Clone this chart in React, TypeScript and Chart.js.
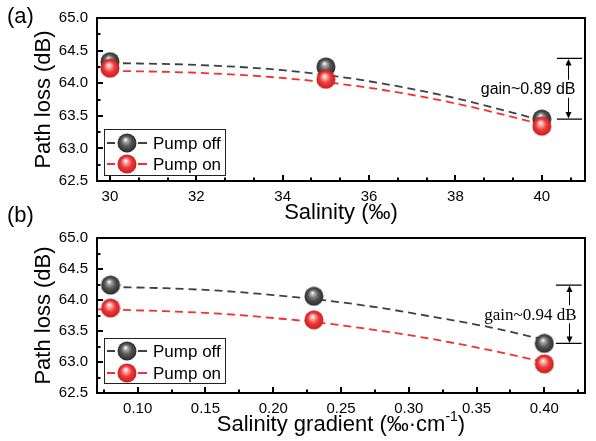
import React, { useEffect, useRef } from "react";
import { Chart, registerables } from "chart.js";

Chart.register(...registerables);

// ---------- Panel (a): Salinity ----------
const salinityA = [30, 35, 40];
const pumpOffA = [64.33, 64.25, 63.45];
const pumpOnA = [64.23, 64.06, 63.34];
const fitXA = [30, 32, 34, 36, 38, 40];
const fitOffA = [64.31, 64.28, 64.2, 64.03, 63.77, 63.43];
const fitOnA = [64.19, 64.16, 64.08, 63.93, 63.69, 63.37];
const xTicksA = [30, 32, 34, 36, 38, 40];
const gainLevelsA = [64.38, 63.45];
const gainBarXA = [40.35, 40.61, 40.93];
const gainLabelA = "gain~0.89 dB";

// ---------- Panel (b): Salinity gradient ----------
const gradientB = [0.08, 0.23, 0.4];
const pumpOffB = [64.24, 64.06, 63.3];
const pumpOnB = [63.87, 63.68, 62.97];
const fitXOffB = [0.08, 0.12, 0.16, 0.2, 0.24, 0.28, 0.32, 0.36, 0.4];
const fitOffB = [64.21, 64.19, 64.15, 64.08, 63.99, 63.87, 63.72, 63.56, 63.36];
const fitXOnB = [0.07, 0.12, 0.16, 0.2, 0.24, 0.28, 0.32, 0.36, 0.4];
const fitOnB = [63.85, 63.82, 63.78, 63.71, 63.62, 63.5, 63.36, 63.19, 63.0];
const xTicksB = [0.1, 0.15, 0.2, 0.25, 0.3, 0.35, 0.4];
const gainLevelsB = [64.24, 63.3];
const gainBarXB = [0.4085, 0.418, 0.4275];
const gainLabelB = "gain~0.94 dB";

const yTicks = [62.5, 63.0, 63.5, 64.0, 64.5, 65.0];
const legendLabels = ["Pump off", "Pump on"];
const yTitle = "Path loss (dB)";
const xTitleA = "Salinity (‰)";
const xTitleB = ["Salinity gradient (‰·cm", "-1", ")"];
const panelLabels = ["(a)", "(b)"];

const SANS = "Arial, 'Liberation Sans', Helvetica, sans-serif";
const SERIF = "'Times New Roman', 'Liberation Serif', serif";
const GRAY_LINE = "#404040";
const RED_LINE = "#f5302e";

function makeSphere(mid: string, base: string, dark: string): HTMLCanvasElement {
  const size = 20;
  const c = document.createElement("canvas");
  c.width = size;
  c.height = size;
  const g = c.getContext("2d")!;
  const cx = size / 2;
  const cy = size / 2;
  const r = size / 2 - 0.5;
  const grad = g.createRadialGradient(cx - 1.5, cy - 3.5, 0.3, cx, cy, r);
  grad.addColorStop(0, "#ffffff");
  grad.addColorStop(0.2, mid);
  grad.addColorStop(0.55, base);
  grad.addColorStop(1, dark);
  g.fillStyle = grad;
  g.beginPath();
  g.arc(cx, cy, r, 0, Math.PI * 2);
  g.fill();
  return c;
}

type PanelCfg = {
  key: string;
  padTop: number;
  xHeight: number;
  xMin: number;
  xMax: number;
  xTicks: number[];
  xMinorPer: number;
  xDec: number;
  ptsX: number[];
  off: number[];
  on: number[];
  fitXOff: number[];
  fitOff: number[];
  fitXOn: number[];
  fitOn: number[];
  gainLevels: number[];
  gainBarX: number[];
  gainLabel: string;
  gainFont: string;
  legendTop: number;
  legendH: number;
  legendRows: number[];
  titleOffset: number;
  drawXTitle: (ctx: CanvasRenderingContext2D, cx: number, cy: number) => void;
  extra?: (ctx: CanvasRenderingContext2D) => void;
};

function minorTicks(majors: number[], per: number, min: number, max: number): number[] {
  const step = (majors[1] - majors[0]) / (per + 1);
  const out: number[] = [];
  const first = majors[0];
  for (let k = -per - 1; ; k++) {
    const v = first + k * step;
    if (v > max + 1e-9) break;
    if (v < min - 1e-9) continue;
    const isMajor = majors.some((m) => Math.abs(m - v) < step * 0.01);
    if (!isMajor) out.push(v);
  }
  return out;
}

function buildChart(canvas: HTMLCanvasElement, p: PanelCfg) {
  const graySphere = makeSphere("#a8a8a8", "#555555", "#2a2a2a");
  const redSphere = makeSphere("#ffb0b0", "#f03a3a", "#c81e1e");

  const plugin = {
    id: "panel" + p.key,
    afterDraw(chart: any) {
      const ctx: CanvasRenderingContext2D = chart.ctx;
      const a = chart.chartArea;
      const xs = chart.scales.x;
      const ys = chart.scales.y;
      ctx.save();

      // Gain annotation
      const yU = ys.getPixelForValue(p.gainLevels[0]);
      const yL = ys.getPixelForValue(p.gainLevels[1]);
      const x0 = xs.getPixelForValue(p.gainBarX[0]);
      const xm = Math.round(xs.getPixelForValue(p.gainBarX[1])) + 0.5;
      const x1 = xs.getPixelForValue(p.gainBarX[2]);
      ctx.strokeStyle = "#000";
      ctx.fillStyle = "#000";
      ctx.lineWidth = 1.3;
      ctx.beginPath();
      ctx.moveTo(x0, yU);
      ctx.lineTo(x1, yU);
      ctx.moveTo(x0, yL);
      ctx.lineTo(x1, yL);
      ctx.stroke();
      ctx.lineWidth = 1;
      ctx.beginPath();
      ctx.moveTo(xm, yU + 5);
      ctx.lineTo(xm, yL - 5);
      ctx.stroke();
      ctx.beginPath();
      ctx.moveTo(xm, yU + 0.5);
      ctx.lineTo(xm - 3, yU + 7);
      ctx.lineTo(xm + 3, yU + 7);
      ctx.closePath();
      ctx.fill();
      ctx.beginPath();
      ctx.moveTo(xm, yL - 0.5);
      ctx.lineTo(xm - 3, yL - 7);
      ctx.lineTo(xm + 3, yL - 7);
      ctx.closePath();
      ctx.fill();
      ctx.font = p.gainFont;
      const tw = ctx.measureText(p.gainLabel).width;
      const tRight = xm + 7;
      const tMid = (yU + yL) / 2;
      ctx.fillStyle = "#fff";
      ctx.fillRect(tRight - tw - 1, tMid - 9, tw + 2, 18);
      ctx.fillStyle = "#000";
      ctx.textAlign = "right";
      ctx.textBaseline = "middle";
      ctx.fillText(p.gainLabel, tRight, tMid + 1);

      // Frame
      ctx.strokeStyle = "#000";
      ctx.lineWidth = 2;
      ctx.strokeRect(a.left, a.top, a.right - a.left, a.bottom - a.top);

      // Inward ticks
      ctx.lineWidth = 2;
      ctx.beginPath();
      for (const v of p.xTicks) {
        const x = Math.round(xs.getPixelForValue(v));
        ctx.moveTo(x, a.bottom);
        ctx.lineTo(x, a.bottom - 6);
      }
      for (const v of minorTicks(p.xTicks, p.xMinorPer, p.xMin, p.xMax)) {
        const x = Math.round(xs.getPixelForValue(v));
        ctx.moveTo(x, a.bottom);
        ctx.lineTo(x, a.bottom - 3.5);
      }
      for (const v of yTicks) {
        const y = Math.round(ys.getPixelForValue(v));
        ctx.moveTo(a.left, y);
        ctx.lineTo(a.left + 6, y);
      }
      for (const v of minorTicks(yTicks, 1, yTicks[0], yTicks[yTicks.length - 1])) {
        const y = Math.round(ys.getPixelForValue(v));
        ctx.moveTo(a.left, y);
        ctx.lineTo(a.left + 3.5, y);
      }
      ctx.stroke();

      // Legend
      const lx = a.left + 7;
      const ly = a.bottom - p.legendTop;
      ctx.fillStyle = "#fff";
      ctx.fillRect(lx, ly, 122, p.legendH);
      ctx.strokeStyle = "#222";
      ctx.lineWidth = 1;
      ctx.strokeRect(lx + 0.5, ly + 0.5, 121, p.legendH - 1);
      const colors = [GRAY_LINE, RED_LINE];
      const spheres = [graySphere, redSphere];
      for (let i = 0; i < 2; i++) {
        const ry = ly + p.legendRows[i];
        ctx.strokeStyle = colors[i];
        ctx.lineWidth = 1.8;
        ctx.beginPath();
        ctx.moveTo(lx + 3, ry);
        ctx.lineTo(lx + 11, ry);
        ctx.moveTo(lx + 34, ry);
        ctx.lineTo(lx + 43, ry);
        ctx.stroke();
        ctx.drawImage(spheres[i], lx + 23 - 10, ry - 10);
        ctx.fillStyle = "#000";
        ctx.font = "17px " + SANS;
        ctx.textAlign = "left";
        ctx.textBaseline = "middle";
        ctx.fillText(legendLabels[i], lx + 49, ry + 1);
      }

      // Axis titles
      ctx.fillStyle = "#000";
      ctx.font = "22px " + SANS;
      ctx.textAlign = "center";
      ctx.textBaseline = "middle";
      ctx.save();
      ctx.translate(44, (a.top + a.bottom) / 2);
      ctx.rotate(-Math.PI / 2);
      ctx.fillText(yTitle, 0, 0);
      ctx.restore();
      p.drawXTitle(ctx, (a.left + a.right) / 2, a.bottom + p.titleOffset);

      if (p.extra) p.extra(ctx);
      ctx.restore();
    },
  };

  const pts = (xsArr: number[], ysArr: number[]) => xsArr.map((x, i) => ({ x, y: ysArr[i] }));

  return new Chart(canvas, {
    type: "scatter",
    data: {
      datasets: [
        {
          label: legendLabels[1],
          data: pts(p.ptsX, p.on),
          pointStyle: redSphere as any,
          pointRadius: 10,
          showLine: false,
        },
        {
          label: legendLabels[0],
          data: pts(p.ptsX, p.off),
          pointStyle: graySphere as any,
          pointRadius: 10,
          showLine: false,
        },
        {
          label: "fit off",
          data: pts(p.fitXOff, p.fitOff),
          showLine: true,
          borderColor: GRAY_LINE,
          borderWidth: 1.8,
          borderDash: [8, 5],
          pointRadius: 0,
          cubicInterpolationMode: "monotone",
        },
        {
          label: "fit on",
          data: pts(p.fitXOn, p.fitOn),
          showLine: true,
          borderColor: RED_LINE,
          borderWidth: 1.8,
          borderDash: [8, 5],
          pointRadius: 0,
          cubicInterpolationMode: "monotone",
        },
      ],
    },
    options: {
      responsive: false,
      animation: false,
      devicePixelRatio: 1,
      layout: { padding: { top: p.padTop, right: 1, left: 0, bottom: 0 } },
      plugins: { legend: { display: false }, tooltip: { enabled: false } },
      scales: {
        x: {
          type: "linear",
          min: p.xMin,
          max: p.xMax,
          grid: { display: false, drawTicks: false },
          border: { display: false },
          ticks: {
            color: "#000",
            font: { family: SANS, size: 15 },
            padding: 7,
            maxRotation: 0,
            autoSkip: false,
            callback: (v: any) => Number(v).toFixed(p.xDec),
          },
          afterBuildTicks: (s: any) => {
            s.ticks = p.xTicks.map((v) => ({ value: v }));
          },
          afterFit: (s: any) => {
            s.height = p.xHeight;
          },
        },
        y: {
          type: "linear",
          min: yTicks[0],
          max: yTicks[yTicks.length - 1],
          grid: { display: false, drawTicks: false },
          border: { display: false },
          ticks: {
            color: "#000",
            font: { family: SANS, size: 15 },
            padding: 9,
            autoSkip: false,
            callback: (v: any) => Number(v).toFixed(1),
          },
          afterBuildTicks: (s: any) => {
            s.ticks = yTicks.map((v) => ({ value: v }));
          },
          afterFit: (s: any) => {
            s.width = 97;
          },
        },
      },
    } as any,
    plugins: [plugin as any],
  });
}

export default function App() {
  const topRef = useRef<HTMLCanvasElement | null>(null);
  const botRef = useRef<HTMLCanvasElement | null>(null);

  useEffect(() => {
    const cfgA: PanelCfg = {
      key: "a",
      padTop: 17,
      xHeight: 51,
      xMin: 29.7,
      xMax: 41,
      xTicks: xTicksA,
      xMinorPer: 2,
      xDec: 0,
      ptsX: salinityA,
      off: pumpOffA,
      on: pumpOnA,
      fitXOff: fitXA,
      fitOff: fitOffA,
      fitXOn: fitXA,
      fitOn: fitOnA,
      gainLevels: gainLevelsA,
      gainBarX: gainBarXA,
      gainLabel: gainLabelA,
      gainFont: "16px " + SANS,
      legendTop: 52,
      legendH: 47,
      legendRows: [14, 35],
      titleOffset: 32,
      drawXTitle: (ctx, cx, cy) => {
        ctx.font = "22px " + SANS;
        ctx.textAlign = "center";
        ctx.textBaseline = "middle";
        ctx.fillText(xTitleA, cx, cy);
      },
      extra: (ctx) => {
        ctx.font = "22px " + SANS;
        ctx.textAlign = "left";
        ctx.textBaseline = "middle";
        ctx.fillStyle = "#000";
        ctx.fillText(panelLabels[0], 7, 17);
        ctx.fillText(panelLabels[1], 7, 216);
      },
    };
    const cfgB: PanelCfg = {
      key: "b",
      padTop: 10,
      xHeight: 48,
      xMin: 0.07,
      xMax: 0.43,
      xTicks: xTicksB,
      xMinorPer: 1,
      xDec: 2,
      ptsX: gradientB,
      off: pumpOffB,
      on: pumpOnB,
      fitXOff: fitXOffB,
      fitOff: fitOffB,
      fitXOn: fitXOnB,
      fitOn: fitOnB,
      gainLevels: gainLevelsB,
      gainBarX: gainBarXB,
      gainLabel: gainLabelB,
      gainFont: "17px " + SERIF,
      legendTop: 55,
      legendH: 46,
      legendRows: [13, 35],
      titleOffset: 32,
      drawXTitle: (ctx, cx, cy) => {
        const big = "22px " + SANS;
        const small = "14px " + SANS;
        ctx.font = big;
        const w0 = ctx.measureText(xTitleB[0]).width;
        const w2 = ctx.measureText(xTitleB[2]).width;
        ctx.font = small;
        const w1 = ctx.measureText(xTitleB[1]).width;
        let x = cx - (w0 + w1 + w2) / 2;
        ctx.textAlign = "left";
        ctx.textBaseline = "middle";
        ctx.font = big;
        ctx.fillText(xTitleB[0], x, cy);
        x += w0;
        ctx.font = small;
        ctx.fillText(xTitleB[1], x, cy - 8);
        x += w1;
        ctx.font = big;
        ctx.fillText(xTitleB[2], x, cy);
      },
    };
    const c1 = topRef.current ? buildChart(topRef.current, cfgA) : null;
    const c2 = botRef.current ? buildChart(botRef.current, cfgB) : null;
    return () => {
      c1?.destroy();
      c2?.destroy();
    };
  }, []);

  return (
    <div style={{ position: "fixed", left: 0, top: 0, width: 596, height: 441, background: "#fff" }}>
      <canvas
        ref={topRef}
        width={596}
        height={232}
        style={{ position: "absolute", left: 0, top: 0, width: 596, height: 232 }}
      />
      <canvas
        ref={botRef}
        width={596}
        height={221}
        style={{ position: "absolute", left: 0, top: 220, width: 596, height: 221 }}
      />
    </div>
  );
}
